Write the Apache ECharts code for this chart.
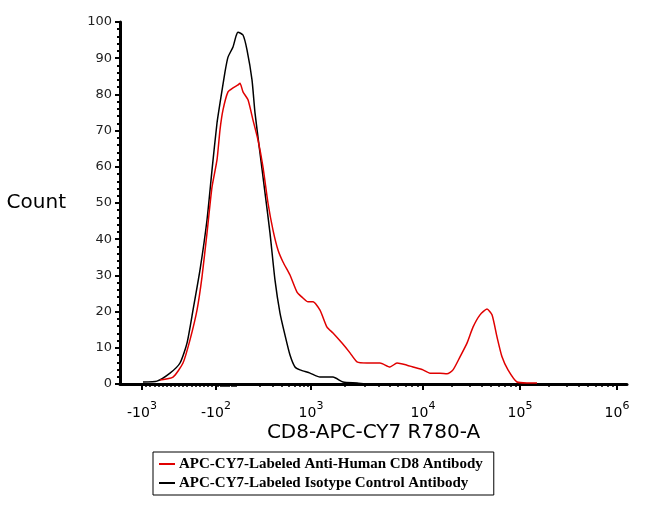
<!DOCTYPE html>
<html>
<head>
<meta charset="utf-8">
<script src="https://cdn.jsdelivr.net/npm/echarts@6/dist/echarts.min.js"></script>
<style>
  html, body { margin: 0; padding: 0; background: #fff; }
  #chart { width: 667px; height: 522px; }
</style>
</head>
<body>
<div id="chart"></div>
<script>
// x is the display channel of the biexponential axis (0 - 1014)
const countChannels = [46, 74, 100, 120, 134, 146, 160, 174, 184, 194, 200, 210, 216, 226, 232, 236, 246, 254, 264, 270, 280, 290, 300, 310, 320, 330, 340, 350, 360, 380, 400, 426, 446, 474, 494]
const isotypeCounts = [0.55, 0.8, 3.0, 5.8, 11.3, 20.4, 31.5, 45.3, 59.1, 72.1, 77.6, 86.2, 90.3, 93.1, 96.1, 97.2, 96.4, 92.3, 84.0, 74.9, 63.8, 52.8, 41.7, 28.7, 19.6, 13.5, 8.0, 4.7, 3.9, 3.0, 1.9, 1.9, 0.55, 0.3, 0]

const cd8Channels = [80, 106, 126, 140, 154, 164, 174, 184, 194, 200, 206, 216, 226, 236, 240, 246, 256, 266, 276, 286, 296, 306, 316, 326, 340, 354, 364, 376, 386, 400, 414, 426, 444, 460, 474, 494, 520, 540, 554, 574, 586, 606, 620, 640, 654, 666, 680, 694, 706, 720, 734, 744, 754, 764, 776, 794, 814, 834]
const cd8Counts = [1.1, 1.9, 5.8, 12.2, 20.4, 29.6, 41.7, 54.4, 61.9, 70.2, 75.7, 80.7, 81.8, 82.6, 83.1, 80.7, 78.5, 72.9, 67.4, 59.9, 50.0, 42.5, 37.0, 33.7, 30.1, 25.4, 24.0, 22.7, 22.7, 20.4, 15.7, 14.1, 11.3, 8.6, 6.1, 5.8, 5.8, 4.7, 5.8, 5.2, 4.7, 3.9, 3.0, 3.0, 2.8, 3.9, 7.5, 11.3, 15.7, 19.1, 20.7, 19.1, 13.0, 7.5, 3.9, 0.55, 0.3, 0.3]

// decade anchors of the axis: value -> channel
const anchorValues = [-1000, -100, 100, 1000, 10000, 100000, 1000000]
const anchorChannels = [44, 192, 236, 382, 606, 800, 994]

// labelled ticks
const majorValues = [-1000, -100, 1000, 10000, 100000, 1000000]
const majorSigns = ['-', '-', '', '', '', '']
const majorExponents = [3, 2, 3, 4, 5, 6]

const seriesNames = ['APC-CY7-Labeled Anti-Human CD8 Antibody', 'APC-CY7-Labeled Isotype Control Antibody']

function channelOf(v) {
  for (let i = 0; i < anchorValues.length - 1; i++) {
    const a = anchorValues[i], b = anchorValues[i + 1]
    if (v >= a && v <= b) {
      const ca = anchorChannels[i], cb = anchorChannels[i + 1]
      let t
      if (a > 0) {
        t = (Math.log10(v) - Math.log10(a)) / (Math.log10(b) - Math.log10(a))
      } else {
        t = (v - a) / (b - a)
      }
      return ca + (cb - ca) * t
    }
  }
  return null
}

// minor tick values
const minorValues = []
for (let v = -950; v <= -150; v += 50) minorValues.push(v)
for (let v = -80; v <= 80; v += 20) minorValues.push(v)
for (const base of [100, 1000, 10000, 100000]) {
  for (let m = 2; m <= 9; m++) minorValues.push(m * base)
}

const majorChannels = majorValues.map(channelOf)
const minorChannels = minorValues.map(channelOf)

const chart = echarts.init(document.getElementById('chart'))

const toPairs = (xs, ys) => xs.map((x, i) => [x, ys[i]])

const option = {
  animation: false,
  backgroundColor: '#fff',
  grid: {
    left: 120,
    right: 40,
    top: 22,
    bottom: 138,
    containLabel: false
  },
  legend: {
    orient: 'vertical',
    left: 153,
    top: 452,
    padding: [4, 11, 4, 6],
    itemGap: 3,
    itemWidth: 16,
    itemHeight: 2,
    icon: 'rect',
    borderColor: '#000',
    borderWidth: 1,
    borderRadius: 0,
    data: seriesNames,
    textStyle: {
      fontFamily: 'Liberation Serif',
      fontWeight: 'bold',
      fontSize: 15,
      lineHeight: 16,
      color: '#000',
      padding: [0, 0, 0, -1]
    }
  },
  xAxis: [
    {
      type: 'value',
      min: 0,
      max: 1014,
      name: 'CD8-APC-CY7 R780-A',
      nameLocation: 'middle',
      nameGap: 39,
      nameTextStyle: {
        fontFamily: 'DejaVu Sans',
        fontSize: 20,
        color: '#000'
      },
      axisLine: { lineStyle: { color: '#000', width: 3 } },
      axisTick: {
        customValues: minorChannels,
        length: 3,
        lineStyle: { color: '#000', width: 1.5 }
      },
      axisLabel: { show: false },
      splitLine: { show: false }
    },
    {
      type: 'value',
      min: 0,
      max: 1014,
      position: 'bottom',
      axisLine: { show: false },
      axisTick: {
        customValues: majorChannels,
        length: 6,
        lineStyle: { color: '#000', width: 2 }
      },
      axisLabel: {
        customValues: majorChannels,
        margin: 14,
        formatter(value) {
          const i = majorChannels.findIndex(c => Math.abs(c - value) < 0.01)
          if (i < 0) return ''
          return `{b|${majorSigns[i]}10}{s|${majorExponents[i]}}`
        },
        rich: {
          b: {
            fontFamily: 'DejaVu Sans',
            fontSize: 14,
            color: '#000',
            padding: [8, 0, 0, 0]
          },
          s: {
            fontFamily: 'DejaVu Sans',
            fontSize: 11,
            color: '#000',
            padding: [0, 0, 6, 0]
          }
        }
      },
      splitLine: { show: false }
    }
  ],
  yAxis: {
    type: 'value',
    min: 0,
    max: 100,
    interval: 10,
    name: 'Count',
    nameLocation: 'middle',
    nameRotate: 0,
    nameGap: 54,
    nameTextStyle: {
      fontFamily: 'DejaVu Sans',
      fontSize: 20,
      color: '#000'
    },
    axisLine: { show: true, lineStyle: { color: '#000', width: 3 } },
    axisTick: { show: true, length: 5, lineStyle: { color: '#000', width: 2 } },
    minorTick: { show: true, splitNumber: 5, length: 3, lineStyle: { color: '#000', width: 2 } },
    axisLabel: {
      margin: 8,
      fontFamily: 'DejaVu Sans',
      fontSize: 13,
      color: '#222'
    },
    splitLine: { show: false }
  },
  series: [
    {
      name: seriesNames[1],
      type: 'line',
      xAxisIndex: 0,
      data: toPairs(countChannels, isotypeCounts),
      showSymbol: false,
      smooth: 0.2,
      lineStyle: { color: '#000', width: 1.5 },
      itemStyle: { color: '#000' }
    },
    {
      name: seriesNames[0],
      type: 'line',
      xAxisIndex: 0,
      data: toPairs(cd8Channels, cd8Counts),
      showSymbol: false,
      smooth: 0.2,
      lineStyle: { color: '#e00000', width: 1.5 },
      itemStyle: { color: '#e00000' }
    }
  ]
}

chart.setOption(option)
</script>
</body>
</html>
